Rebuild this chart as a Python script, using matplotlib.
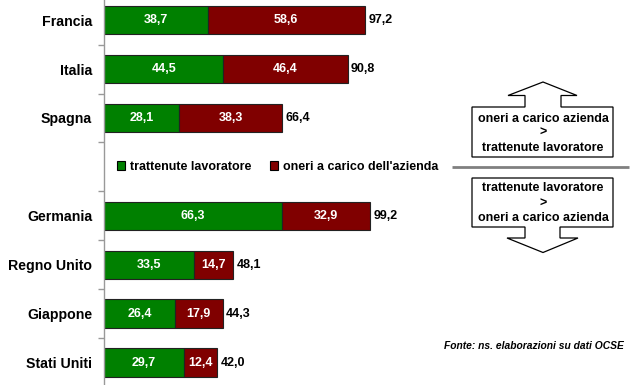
import matplotlib
matplotlib.use("Agg")
import matplotlib.pyplot as plt
from matplotlib.patches import Polygon, Patch

plt.rcParams['font.family'] = ['Liberation Sans', 'DejaVu Sans']
plt.rcParams['font.weight'] = 'bold'

# Data
countries = ["Francia", "Italia", "Spagna", "Germania", "Regno Unito", "Giappone", "Stati Uniti"]
worker = [38.7, 44.5, 28.1, 66.3, 33.5, 26.4, 29.7]
employer = [58.6, 46.4, 38.3, 32.9, 14.7, 17.9, 12.4]
totals = [97.2, 90.8, 66.4, 99.2, 48.1, 44.3, 42.0]
slots = [0, 1, 2, 4, 5, 6, 7]   # slot 3 left empty for the legend

green = "#008000"
maroon = "#800000"

W, H = 631, 385
fig = plt.figure(figsize=(W / 100, H / 100), dpi=100)
ax = fig.add_axes([104 / W, 0, (W - 104) / W, 1])

ax.barh(slots, worker, height=0.58, color=green, edgecolor="#222222", linewidth=0.8)
ax.barh(slots, employer, left=worker, height=0.58, color=maroon, edgecolor="#222222", linewidth=0.8)

def fmt(v):
    return ("%.1f" % v).replace(".", ",")

for s, w, e, t in zip(slots, worker, employer, totals):
    ax.text(w / 2, s, fmt(w), ha="center", va="center", color="white", fontsize=9, fontweight="bold")
    ax.text(w + e / 2, s, fmt(e), ha="center", va="center", color="white", fontsize=9, fontweight="bold")
    ax.text(w + e + 1.3, s, fmt(t), ha="left", va="center", color="black", fontsize=9, fontweight="bold")

ax.set_xlim(0, (W - 104) / 2.68)
ax.set_ylim(7.46, -0.413)
ax.set_xticks([])
ax.set_yticks(slots)
ax.set_yticklabels(countries, fontsize=10.2, fontweight="bold")
ax.tick_params(axis="y", which="major", length=0, pad=8.5)
ax.set_yticks([i + 0.5 for i in range(7)], minor=True)
ax.tick_params(axis="y", which="minor", length=4, color="#999999", width=1)
for side in ["top", "right", "bottom"]:
    ax.spines[side].set_visible(False)
ax.spines["left"].set_color("#999999")
ax.spines["left"].set_linewidth(1)

# legend in the empty slot
handles = [Patch(facecolor=green, edgecolor="black", linewidth=0.8, label="trattenute lavoratore"),
           Patch(facecolor=maroon, edgecolor="black", linewidth=0.8, label="oneri a carico dell'azienda")]
fig.legend(handles=handles, loc="center left", bbox_to_anchor=(117 / W, 1 - 167 / H),
           ncol=2, frameon=False, borderpad=0, borderaxespad=0, handlelength=0.65,
           handleheight=0.65, handletextpad=0.4, columnspacing=1.5,
           prop={"size": 9, "weight": "bold"})

# overlay in pixel coordinates for the arrow boxes
ov = fig.add_axes([0, 0, 1, 1], facecolor="none")
ov.set_xlim(0, W)
ov.set_ylim(H, 0)
ov.axis("off")

up = [(472, 157), (472, 107), (525, 107), (525, 95.5), (508, 95.5), (543, 82),
      (577, 95.5), (561, 95.5), (561, 107), (613, 107), (613, 157)]
down = [(472, 178), (472, 227), (525, 227), (525, 238), (507, 238), (543, 252.5),
        (578, 238), (560, 238), (560, 227), (613, 227), (613, 178)]
for pts in (up, down):
    ov.add_patch(Polygon(pts, closed=True, facecolor="white", edgecolor="black", linewidth=0.9))

ov.plot([452, 629], [167.3, 167.3], color="#808080", linewidth=2, solid_capstyle="butt")

for txt, y in [("oneri a carico azienda", 118.7), (">", 133), ("trattenute lavoratore", 148),
               ("trattenute lavoratore", 188.3), (">", 203.3), ("oneri a carico azienda", 218.3)]:
    ov.text(543, y, txt, ha="center", va="center", fontsize=9, fontweight="bold")

ov.text(624, 346, "Fonte: ns. elaborazioni su dati OCSE", ha="right", va="center",
        fontsize=7.4, fontweight="bold", style="italic")

fig.savefig("out.png", dpi=100)
